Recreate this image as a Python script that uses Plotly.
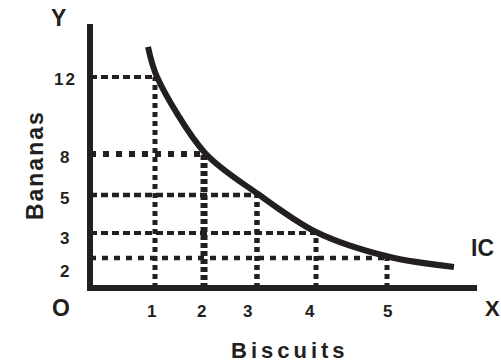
import plotly.graph_objects as go

# nominal values printed on the axes
biscuits = [1, 2, 3, 4, 5]
bananas = [12, 8, 5, 3, 2]

# where each guide actually sits on the (linear) axes
biscuits_at = [1.117, 1.96, 2.87, 3.885, 5.105]
bananas_at = [12.13, 7.70, 5.34, 3.16, 1.72]

# indifference curve, points
ic_x = [0.997, 1.152, 1.977, 2.888, 3.885, 5.156, 6.256]
ic_y = [13.85, 12.13, 7.76, 5.40, 3.22, 1.78, 1.21]

INK = "#231f20"
FONT = "Arial, Liberation Sans, sans-serif"

fig = go.Figure()

# dotted guides: horizontal from the Y axis, vertical down to the X axis
h_dash = ["7px,4px", "6px,7px", "7px,4px", "7px,4px", "6px,6px"]
h_width = [4, 6, 4.5, 4, 4.5]
v_dash = ["5px,4px", "5px,3px", "5px,4px", "5px,4px", "5px,4px"]
v_width = [5, 7, 5.5, 5, 5]
for i, (xa, ya) in enumerate(zip(biscuits_at, bananas_at)):
    fig.add_trace(go.Scatter(x=[0, xa], y=[ya, ya], mode="lines",
                             line=dict(color=INK, width=h_width[i], dash=h_dash[i]),
                             hoverinfo="skip", showlegend=False))
    fig.add_trace(go.Scatter(x=[xa, xa], y=[0, ya], mode="lines",
                             line=dict(color=INK, width=v_width[i], dash=v_dash[i]),
                             hoverinfo="skip", showlegend=False))

fig.add_trace(go.Scatter(x=ic_x, y=ic_y, mode="lines",
                         line=dict(color=INK, width=6, shape="spline", smoothing=0.9),
                         hoverinfo="skip", showlegend=False))

annots = []
def label(text, size, spacing=0, **kw):
    if spacing:
        text = '<span style="letter-spacing:%dpx">%s</span>' % (spacing, text)
    annots.append(dict(text=text, showarrow=False, xanchor="center", yanchor="middle",
                       font=dict(family=FONT, size=size, color=INK, weight="bold"), **kw))

# tick labels (data position on one side, paper on the other so they are not hidden)
x_nudge = [-3, -3, -9, -6, 0]
for xa, b, n in zip(biscuits_at, biscuits, x_nudge):
    label(str(b), 17, x=xa, xref="x", y=-0.075, yref="paper", xshift=n)
y_nudge = [-3, -3, -3, -5, -13]
for ya, b, n in zip(bananas_at, bananas, y_nudge):
    label(str(b), 17, spacing=2, x=-0.056, xref="paper", y=ya, yref="y", yshift=n)

label("Y", 23, x=-0.072, y=1.0225, xref="paper", yref="paper")
label("O", 23, x=-0.067, y=-0.064, xref="paper", yref="paper")
label("X", 22, x=1.040, y=-0.064, xref="paper", yref="paper")
label("IC", 23, x=1.013, y=0.161, xref="paper", yref="paper")
label("Bananas", 23, spacing=2, x=-0.133, y=0.472, xref="paper", yref="paper", textangle=-90)
label("Biscuits", 22, spacing=4, x=0.52, y=-0.221, xref="paper", yref="paper")

# the axes themselves are the zero lines
axis_common = dict(showline=False, showgrid=False, zeroline=True, zerolinewidth=6,
                   zerolinecolor=INK, showticklabels=False, ticks="", fixedrange=True)

fig.update_layout(
    width=501, height=363,
    margin=dict(l=87, r=24, t=24, b=72),
    paper_bgcolor="white", plot_bgcolor="white",
    xaxis=dict(range=[-0.0516, 6.652], **axis_common),
    yaxis=dict(range=[-0.172, 15.17], **axis_common),
    annotations=annots,
    showlegend=False,
)

# page body margin would push the figure off the 501x363 window
fig.write_html("out.html", config={"displayModeBar": False},
               post_script="document.body.style.margin='0';document.body.style.overflow='hidden';")
